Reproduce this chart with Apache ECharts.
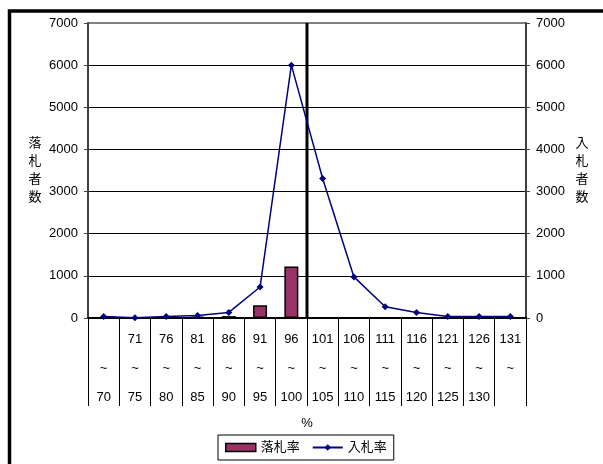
<!DOCTYPE html>
<html>
<head>
<meta charset="utf-8">
<script src="https://cdn.jsdelivr.net/npm/echarts@6/dist/echarts.min.js"></script>
<style>
html,body{margin:0;padding:0;background:#fff;}
#chart{width:603px;height:464px;}
</style>
</head>
<body>
<div id="chart"></div>
<script>
const categories = ['\n~\n70', '71\n~\n75', '76\n~\n80', '81\n~\n85', '86\n~\n90', '91\n~\n95', '96\n~\n100',
  '101\n~\n105', '106\n~\n110', '111\n~\n115', '116\n~\n120', '121\n~\n125', '126\n~\n130', '131\n~\n'];
const awardCounts = [0, 0, 0, 35, 45, 300, 1220, 0, 0, 0, 0, 0, 0, 0];      // 落札率
const bidCounts = [35, 5, 35, 62, 133, 735, 6000, 3310, 975, 265, 130, 35, 35, 35]; // 入札率
const yTicks = { min: 0, max: 7000, interval: 1000 };
const dividerBoundary = 7; // boundary between 96~100 and 101~105

const FONT = "'Liberation Sans', 'Noto Sans CJK JP', sans-serif";
const chart = echarts.init(document.getElementById('chart'), null, { renderer: 'canvas' });

const yAxisCommon = {
  type: 'value', min: yTicks.min, max: yTicks.max, interval: yTicks.interval,
  axisLine: { show: true, lineStyle: { color: '#404040', width: 2 } },
  axisTick: { show: true, inside: false, length: 4, lineStyle: { color: '#404040', width: 1 } },
  axisLabel: { color: '#000', fontSize: 13, fontFamily: FONT, margin: 10, formatter: v => String(v) },
  nameLocation: 'middle', nameRotate: 0,
  nameTextStyle: { color: '#000', fontSize: 13, fontFamily: FONT, lineHeight: 18, align: 'center', verticalAlign: 'middle' }
};

chart.setOption({
  animation: false,
  backgroundColor: '#fff',
  textStyle: { fontFamily: FONT },
  graphic: [{
    type: 'rect', shape: { x: 9.5, y: 11, width: 620, height: 480 },
    style: { fill: 'none', stroke: '#000', lineWidth: 3.5 }, silent: true, z: 100
  }],
  grid: { left: 88, top: 23, width: 438, height: 295 },
  legend: {
    left: 218, top: 435, padding: [6, 7], itemWidth: 30, itemHeight: 8, itemGap: 12,
    borderColor: '#000', borderWidth: 1,
    textStyle: { color: '#000', fontSize: 13, fontFamily: FONT },
    data: [
      { name: '落札率', icon: 'rect', itemStyle: { color: '#993366', borderColor: '#000', borderWidth: 1.5 } },
      { name: '入札率' }
    ]
  },
  xAxis: [{
    type: 'category', data: categories, boundaryGap: true,
    axisLine: { show: true, lineStyle: { color: '#000', width: 2 } },
    axisTick: { show: true, interval: 0, length: 88, lineStyle: { color: '#000', width: 1 } },
    axisLabel: { interval: 0, color: '#000', fontSize: 13, fontFamily: FONT, lineHeight: 29, margin: 7 },
    name: '%', nameLocation: 'middle', nameGap: 105,
    nameTextStyle: { color: '#000', fontSize: 13, fontFamily: FONT, align: 'center', verticalAlign: 'middle' }
  }, {
    type: 'value', min: 0, max: categories.length, show: false
  }],
  yAxis: [
    Object.assign({}, yAxisCommon, {
      position: 'left', name: '落\n札\n者\n数', nameGap: 53,
      splitLine: { show: true, lineStyle: { color: ['#000', '#000', '#000', '#000', '#000', '#000', '#000', '#808080'], width: 1 } }
    }),
    Object.assign({}, yAxisCommon, {
      position: 'right', name: '入\n札\n者\n数', nameGap: 56,
      splitLine: { show: true, lineStyle: { color: ['none', 'none', 'none', 'none', 'none', 'none', 'none', '#808080'], width: 2 } }
    })
  ],
  series: [
    {
      name: '落札率', type: 'bar', xAxisIndex: 0, yAxisIndex: 0, data: awardCounts,
      barWidth: 14,
      itemStyle: { color: '#993366', borderColor: '#000', borderWidth: 1.5 },
      z: 2
    },
    {
      name: '入札率', type: 'line', xAxisIndex: 0, yAxisIndex: 1, data: bidCounts,
      symbol: 'diamond', symbolSize: 7, showSymbol: true,
      lineStyle: { color: '#000080', width: 1.5 },
      itemStyle: { color: '#000080' },
      z: 4
    },
    {
      name: 'divider', type: 'line', xAxisIndex: 1, yAxisIndex: 0,
      data: [[dividerBoundary, yTicks.min], [dividerBoundary, yTicks.max]],
      symbol: 'none', lineStyle: { color: '#000', width: 3 }, z: 3, silent: true
    }
  ]
});
</script>
</body>
</html>
